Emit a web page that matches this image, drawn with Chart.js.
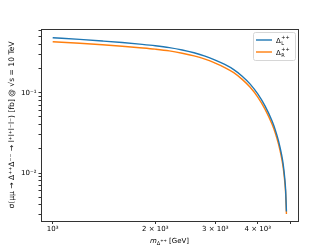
<!DOCTYPE html>
<html>
<head>
<meta charset="utf-8">
<script src="https://cdn.jsdelivr.net/npm/chart.js@4/dist/chart.umd.min.js"></script>
<style>
  html, body { margin: 0; padding: 0; background: #fff; }
</style>
</head>
<body>
<canvas id="chart" width="332" height="249"></canvas>
<script>
// values (GeV, fb)
const masses = [1000, 1200, 1400, 1600, 1800, 2000, 2200, 2400, 2600, 2800, 3000, 3200, 3400,
                3600, 3800, 4000, 4200, 4400, 4500, 4600, 4700, 4750, 4800, 4830, 4855];
const sigmaL = [0.487, 0.464, 0.443, 0.424, 0.405, 0.387, 0.367, 0.343, 0.316, 0.287, 0.256, 0.226, 0.195,
                0.1614, 0.1286, 0.0969, 0.0687, 0.0451, 0.0348, 0.0253, 0.0168, 0.0128, 0.00861, 0.00603, 0.00331];
const sigmaR = [0.434, 0.415, 0.398, 0.382, 0.366, 0.351, 0.334, 0.312, 0.289, 0.263, 0.235, 0.207, 0.1786,
                0.1472, 0.1173, 0.0885, 0.0627, 0.0411, 0.0318, 0.0231, 0.01535, 0.01164, 0.00785, 0.00550, 0.00309];

const xTicks = [1000, 2000, 3000, 4000, 5000];
const xTickLabels = ['10³', '2 × 10³', '3 × 10³', '4 × 10³', ''];
const yTicks = [0.003, 0.004, 0.005, 0.006, 0.007, 0.008, 0.009, 0.01,
                0.02, 0.03, 0.04, 0.05, 0.06, 0.07, 0.08, 0.09, 0.1,
                0.2, 0.3, 0.4, 0.5, 0.6];
const yMajor = { 0.01: '10⁻²', 0.1: '10⁻¹' };

const seriesNames = [['Δ', '++', 'L'], ['Δ', '++', 'R']];
const FONT = 'DejaVu Sans';

// box around the plot, like matplotlib spines
const frame = {
    id: 'frame',
    afterDraw(chart) {
        const a = chart.chartArea;
        const ctx = chart.ctx;
        ctx.save();
        ctx.strokeStyle = '#333';
        ctx.lineWidth = 1;
        ctx.strokeRect(Math.round(a.left) + 0.5, Math.round(a.top) + 0.5,
            Math.round(a.right - a.left), Math.round(a.bottom - a.top));
        ctx.restore();
    }
};

// x axis label with italic m and sub/superscripts
const xLabel = {
    id: 'xLabel',
    afterDraw(chart) {
        const ctx = chart.ctx;
        const a = chart.chartArea;
        const parts = [
            { t: 'm', f: 'italic 7px', dy: 0 },
            { t: 'Δ', f: '5px', dy: 1.5 },
            { t: '++', f: '4px', dy: -1 },
            { t: ' [GeV]', f: '7px', dy: 0 }
        ];
        ctx.save();
        ctx.fillStyle = '#000';
        ctx.textBaseline = 'alphabetic';
        let total = 0;
        parts.forEach(p => {
            ctx.font = p.f + ' "' + FONT + '"';
            p.w = ctx.measureText(p.t).width;
            total += p.w;
        });
        let x = (a.left + a.right) / 2 - total / 2;
        const y = 243;
        parts.forEach(p => {
            ctx.font = p.f + ' "' + FONT + '"';
            ctx.fillText(p.t, x, y + p.dy);
            x += p.w;
        });
        ctx.restore();
    }
};

// legend in the top right corner of the axes
const cornerLegend = {
    id: 'cornerLegend',
    afterDraw(chart) {
        const ctx = chart.ctx;
        const a = chart.chartArea;
        const w = 42, h = 28;
        const x0 = a.right - 3 - w, y0 = a.top + 3;
        ctx.save();
        ctx.fillStyle = 'rgba(255,255,255,0.8)';
        ctx.strokeStyle = '#d6d6d6';
        ctx.lineWidth = 1;
        ctx.beginPath();
        ctx.roundRect(x0 + 0.5, y0 + 0.5, w, h, 2);
        ctx.fill();
        ctx.stroke();
        chart.data.datasets.forEach((ds, i) => {
            const y = y0 + 8 + i * 12;
            ctx.strokeStyle = ds.borderColor;
            ctx.lineWidth = 1.4;
            ctx.beginPath();
            ctx.moveTo(x0 + 3, y);
            ctx.lineTo(x0 + 19, y);
            ctx.stroke();
            const [base, sup, sub] = seriesNames[i];
            ctx.fillStyle = '#000';
            ctx.textBaseline = 'middle';
            ctx.font = '7px "' + FONT + '"';
            ctx.fillText(base, x0 + 23, y + 1);
            const bw = ctx.measureText(base).width;
            ctx.font = '5px "' + FONT + '"';
            ctx.fillText(sup, x0 + 23 + bw + 0.5, y - 2);
            ctx.fillText(sub, x0 + 23 + bw + 0.5, y + 3.5);
        });
        ctx.restore();
    }
};

new Chart(document.getElementById('chart').getContext('2d'), {
    type: 'line',
    data: {
        datasets: [
            {
                label: 'ΔL++',
                data: masses.map((m, i) => ({ x: m, y: sigmaL[i] })),
                borderColor: '#1f77b4',
                borderWidth: 1.4,
                pointRadius: 0,
                cubicInterpolationMode: 'monotone'
            },
            {
                label: 'ΔR++',
                data: masses.map((m, i) => ({ x: m, y: sigmaR[i] })),
                borderColor: '#ff7f0e',
                borderWidth: 1.4,
                pointRadius: 0,
                cubicInterpolationMode: 'monotone'
            }
        ]
    },
    options: {
        responsive: false,
        animation: false,
        devicePixelRatio: 1,
        layout: { padding: { left: 0, top: 29, right: 34, bottom: 0 } },
        plugins: {
            legend: { display: false },
            tooltip: { enabled: false }
        },
        scales: {
            x: {
                type: 'logarithmic',
                min: 924,
                max: 5250,
                afterBuildTicks: (scale) => { scale.ticks = xTicks.map(v => ({ value: v })); },
                afterFit: (scale) => { scale.height = 28; },
                ticks: {
                    autoSkip: false,
                    maxRotation: 0,
                    padding: 1,
                    color: '#000',
                    font: { family: FONT, size: 7 },
                    callback: (v) => xTickLabels[xTicks.indexOf(v)] ?? ''
                },
                grid: { drawOnChartArea: false, tickLength: 3, color: '#333' },
                border: { display: false }
            },
            y: {
                type: 'logarithmic',
                min: 0.00252,
                max: 0.626,
                afterBuildTicks: (scale) => { scale.ticks = yTicks.map(v => ({ value: v })); },
                afterFit: (scale) => { scale.width = 41; },
                ticks: {
                    autoSkip: false,
                    padding: 2,
                    color: '#000',
                    font: { family: FONT, size: 7 },
                    callback: (v) => {
                        for (const k in yMajor) {
                            if (Math.abs(v - Number(k)) < 1e-9) return yMajor[k];
                        }
                        return '';
                    }
                },
                grid: { drawOnChartArea: false, tickLength: 2.5, color: '#333' },
                border: { display: false },
                title: {
                    display: true,
                    text: 'σ(μμ → Δ⁺⁺Δ⁻⁻ → l⁺l⁺l⁻l⁻) [fb] @ √s = 10 TeV',
                    color: '#000',
                    font: { family: FONT, size: 7.6 },
                    padding: { top: 7, bottom: 2 }
                }
            }
        }
    },
    plugins: [frame, xLabel, cornerLegend]
});
</script>
</body>
</html>
